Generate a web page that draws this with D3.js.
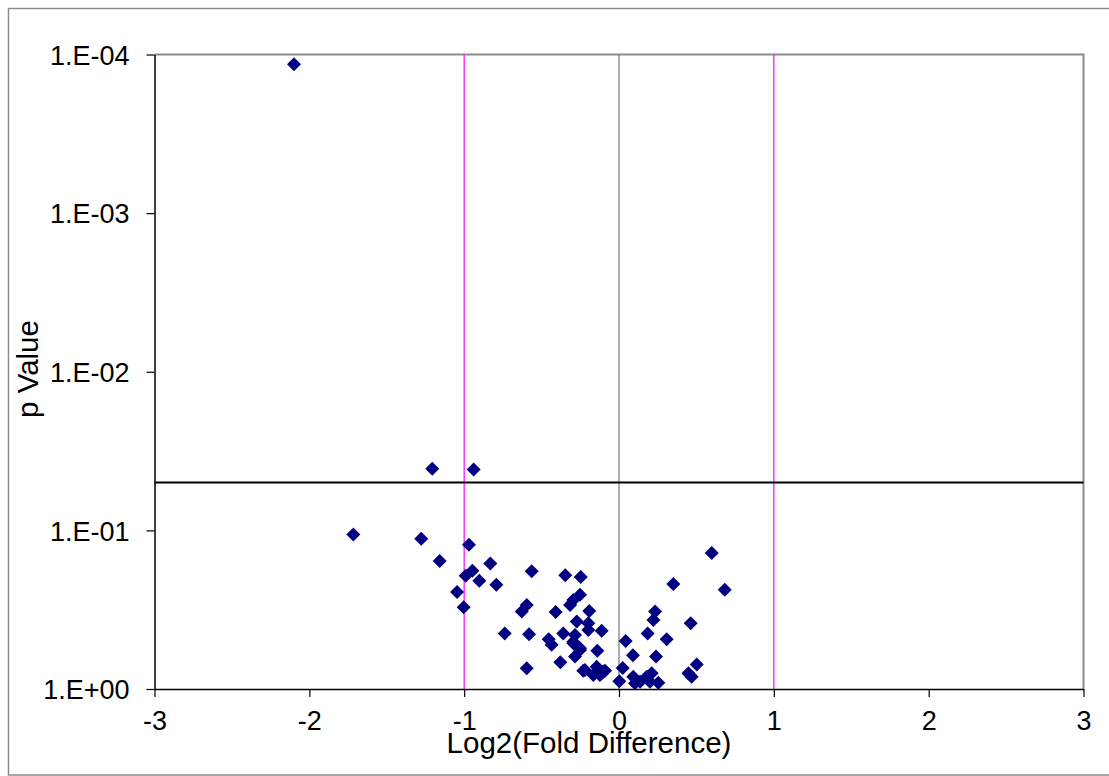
<!DOCTYPE html>
<html>
<head>
<meta charset="utf-8">
<title>Volcano plot</title>
<script src="https://cdn.jsdelivr.net/npm/d3@7"></script>
<style>
body { margin: 0; background: #fff; }
svg text { font-family: "Liberation Sans", Arial, sans-serif; fill: #000; }
.tick text { font-size: 27px; }
.axis-title { font-size: 29.5px; }
</style>
</head>
<body>
<svg id="chart" width="1109" height="776"></svg>
<script>
// log2 fold difference for each probe
var foldDiff = [
  -2.099, -1.206, -0.939, -1.716, -1.277, -1.158, -0.969, -0.831, -0.947, -0.990,
  -0.902, -0.792, -1.046, -1.003, -0.564, -0.347, -0.247, 0.351, -0.295, -0.252,
  -0.316, -0.596, -0.628, -0.409, -0.192, -0.273, -0.198, -0.198, -0.112, -0.360,
  -0.284, -0.295, -0.252, -0.284, -0.454, -0.435, -0.738, -0.581, -0.140, -0.379,
  -0.596, -0.231, -0.166, -0.112, -0.090, -0.144, 0.463, 0.448, 0.502, 0.043,
  0.090, 0.024, 0.002, 0.185, 0.233, 0.222, 0.308, 0.239, 0.599, 0.683,
  0.469, 0.092, 0.136, 0.179, 0.211, 0.200, 0.254, 0.103, -0.295, -0.252,
  -0.123, -0.220, -0.101
];
// matching p values
var pValue = [
  0.000115, 0.0409, 0.0413, 0.106, 0.113, 0.156, 0.123, 0.162, 0.180, 0.193,
  0.208, 0.220, 0.245, 0.305, 0.181, 0.192, 0.197, 0.218, 0.275, 0.255,
  0.295, 0.295, 0.325, 0.327, 0.322, 0.376, 0.385, 0.425, 0.429, 0.446,
  0.456, 0.515, 0.568, 0.625, 0.486, 0.527, 0.446, 0.452, 0.573, 0.679,
  0.741, 0.767, 0.817, 0.796, 0.767, 0.723, 0.385, 0.796, 0.700, 0.498,
  0.612, 0.738, 0.893, 0.446, 0.325, 0.367, 0.486, 0.625, 0.139, 0.237,
  0.836, 0.836, 0.899, 0.836, 0.796, 0.899, 0.912, 0.920, 0.503, 0.553,
  0.816, 0.759, 0.776
];
var xTicks = [-3, -2, -1, 0, 1, 2, 3];
var yTicks = [1, 0.1, 0.01, 0.001, 0.0001];
var foldCutoffs = [-1, 1];
var pCutoff = 0.05;

var svg = d3.select("#chart");
var plotLeft = 154.5, plotRight = 1083.5, plotTop = 54.5, plotBottom = 689;

var x = d3.scaleLinear().domain([-3, 3]).range([plotLeft, plotRight]);
var y = d3.scaleLog().domain([1, 0.0001]).range([plotBottom, plotTop]);

// outer chart border
svg.append("rect")
  .attr("x", 8.5).attr("y", 8.5).attr("width", 1110).attr("height", 766.5)
  .attr("fill", "#fff").attr("stroke", "#8c8c8c").attr("stroke-width", 1.5);

// plot area frame (top and right in grey)
svg.append("path")
  .attr("d", "M" + plotLeft + "," + plotTop + "H" + plotRight + "V" + plotBottom)
  .attr("fill", "none").attr("stroke", "#8c8c8c").attr("stroke-width", 2);

// reference lines
svg.selectAll("line.fold")
  .data(foldCutoffs)
  .enter().append("line")
  .attr("class", "fold")
  .attr("x1", function (d) { return x(d); }).attr("x2", function (d) { return x(d); })
  .attr("y1", plotTop).attr("y2", plotBottom)
  .attr("stroke", "#ff00ff").attr("stroke-width", 1.2);

svg.append("line")
  .attr("x1", x(0)).attr("x2", x(0)).attr("y1", plotTop).attr("y2", plotBottom)
  .attr("stroke", "#808080").attr("stroke-width", 1.3);

svg.append("line")
  .attr("x1", plotLeft).attr("x2", plotRight).attr("y1", y(pCutoff)).attr("y2", y(pCutoff))
  .attr("stroke", "#000").attr("stroke-width", 2);

// axes
function fmtExp(v) {
  var e = Math.round(Math.log10(v));
  var s = e < 0 ? "-" : "+";
  return "1.E" + s + d3.format("02")(Math.abs(e));
}

var xAxis = svg.append("g")
  .attr("transform", "translate(0," + plotBottom + ")")
  .call(d3.axisBottom(x).tickValues(xTicks).tickSize(8).tickPadding(14).tickSizeOuter(0)
    .tickFormat(function (d) { return String(d); }));
var yAxis = svg.append("g")
  .attr("transform", "translate(" + plotLeft + ",0)")
  .call(d3.axisLeft(y).tickValues(yTicks).tickSize(8).tickPadding(17).tickSizeOuter(0)
    .tickFormat(fmtExp));

[xAxis, yAxis].forEach(function (g) {
  g.attr("font-family", null).attr("font-size", null);
  g.select(".domain").attr("stroke", "#000").attr("stroke-width", 1.5);
  g.selectAll(".tick line").attr("stroke", "#000").attr("stroke-width", 1.2);
});
xAxis.selectAll(".tick text").attr("dy", "0.71em");
yAxis.selectAll(".tick text").attr("dy", "0.36em");

// points
var points = foldDiff.map(function (d, i) { return [d, pValue[i]]; });
var r = 7;
svg.append("g").selectAll("path")
  .data(points)
  .enter().append("path")
  .attr("d", function (d) {
    var cx = x(d[0]), cy = y(d[1]);
    return "M" + cx + "," + (cy - r) + "L" + (cx + r) + "," + cy +
           "L" + cx + "," + (cy + r) + "L" + (cx - r) + "," + cy + "Z";
  })
  .attr("fill", "#000080");

// titles
svg.append("text")
  .attr("class", "axis-title")
  .attr("x", 589).attr("y", 753)
  .attr("text-anchor", "middle")
  .text("Log2(Fold Difference)");

svg.append("text")
  .attr("class", "axis-title")
  .attr("transform", "translate(38,369) rotate(-90)")
  .attr("text-anchor", "middle")
  .text("p Value");
</script>
</body>
</html>
